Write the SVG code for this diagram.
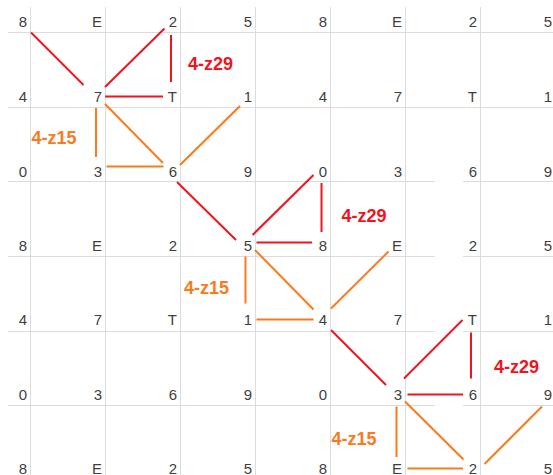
<svg xmlns="http://www.w3.org/2000/svg" width="553" height="475" viewBox="0 0 553 475">
<style>
.bg{fill:#ffffff}
.grid line{stroke:#dcdcdc;stroke-width:1}
.cell text{font-family:"Liberation Sans",Arial,sans-serif;font-size:15px;fill:#3f3f3f;text-anchor:end}
.red{stroke:#f0141e;stroke-width:2;fill:none;stroke-linecap:butt}
.orange{stroke:#fb7a1e;stroke-width:2;fill:none;stroke-linecap:butt}
.lbl{font-family:"Liberation Sans",Arial,sans-serif;font-size:18px;font-weight:bold}
.lr{fill:#f0141e}
.lo{fill:#fb7a1e}
</style>
<rect class="bg" x="0" y="0" width="553" height="475"/>
<g class="grid" id="grid">
<line x1="30.5" y1="7" x2="30.5" y2="475"/>
<line x1="105.5" y1="7" x2="105.5" y2="475"/>
<line x1="180.5" y1="7" x2="180.5" y2="475"/>
<line x1="255.5" y1="7" x2="255.5" y2="475"/>
<line x1="330.5" y1="7" x2="330.5" y2="475"/>
<line x1="405.5" y1="7" x2="405.5" y2="475"/>
<line x1="480.5" y1="7" x2="480.5" y2="475"/>
<line x1="8" y1="32.5" x2="553" y2="32.5"/>
<line x1="8" y1="107.5" x2="553" y2="107.5"/>
<line x1="8" y1="181.5" x2="435" y2="181.5"/>
<line x1="463" y1="181.5" x2="553" y2="181.5"/>
<line x1="8" y1="256.5" x2="435" y2="256.5"/>
<line x1="463" y1="256.5" x2="553" y2="256.5"/>
<line x1="8" y1="331.5" x2="435" y2="331.5"/>
<line x1="463" y1="331.5" x2="553" y2="331.5"/>
<line x1="8" y1="405.5" x2="435" y2="405.5"/>
<line x1="463" y1="405.5" x2="553" y2="405.5"/>
</g>
<g class="cell">
<g id="r0c0"><text x="27" y="27">8</text></g>
<g id="r0c1"><text x="102" y="27">E</text></g>
<g id="r0c2"><text x="177" y="27">2</text></g>
<g id="r0c3"><text x="252" y="27">5</text></g>
<g id="r0c4"><text x="327" y="27">8</text></g>
<g id="r0c5"><text x="402" y="27">E</text></g>
<g id="r0c6"><text x="477" y="27">2</text></g>
<g id="r0c7"><text x="552" y="27">5</text></g>
<g id="r1c0"><text x="27" y="102">4</text></g>
<g id="r1c1"><text x="102" y="102">7</text></g>
<g id="r1c2"><text x="177" y="102">T</text></g>
<g id="r1c3"><text x="252" y="102">1</text></g>
<g id="r1c4"><text x="327" y="102">4</text></g>
<g id="r1c5"><text x="402" y="102">7</text></g>
<g id="r1c6"><text x="477" y="102">T</text></g>
<g id="r1c7"><text x="552" y="102">1</text></g>
<g id="r2c0"><text x="27" y="177">0</text></g>
<g id="r2c1"><text x="102" y="177">3</text></g>
<g id="r2c2"><text x="177" y="177">6</text></g>
<g id="r2c3"><text x="252" y="177">9</text></g>
<g id="r2c4"><text x="327" y="177">0</text></g>
<g id="r2c5"><text x="402" y="177">3</text></g>
<g id="r2c6"><text x="477" y="177">6</text></g>
<g id="r2c7"><text x="552" y="177">9</text></g>
<g id="r3c0"><text x="27" y="250.5">8</text></g>
<g id="r3c1"><text x="102" y="250.5">E</text></g>
<g id="r3c2"><text x="177" y="250.5">2</text></g>
<g id="r3c3"><text x="252" y="250.5">5</text></g>
<g id="r3c4"><text x="327" y="250.5">8</text></g>
<g id="r3c5"><text x="402" y="250.5">E</text></g>
<g id="r3c6"><text x="477" y="250.5">2</text></g>
<g id="r3c7"><text x="552" y="250.5">5</text></g>
<g id="r4c0"><text x="27" y="325">4</text></g>
<g id="r4c1"><text x="102" y="325">7</text></g>
<g id="r4c2"><text x="177" y="325">T</text></g>
<g id="r4c3"><text x="252" y="325">1</text></g>
<g id="r4c4"><text x="327" y="325">4</text></g>
<g id="r4c5"><text x="402" y="325">7</text></g>
<g id="r4c6"><text x="477" y="325">T</text></g>
<g id="r4c7"><text x="552" y="325">1</text></g>
<g id="r5c0"><text x="27" y="399.5">0</text></g>
<g id="r5c1"><text x="102" y="399.5">3</text></g>
<g id="r5c2"><text x="177" y="399.5">6</text></g>
<g id="r5c3"><text x="252" y="399.5">9</text></g>
<g id="r5c4"><text x="327" y="399.5">0</text></g>
<g id="r5c5"><text x="402" y="399.5">3</text></g>
<g id="r5c6"><text x="477" y="399.5">6</text></g>
<g id="r5c7"><text x="552" y="399.5">9</text></g>
<g id="r6c0"><text x="27" y="473.5">8</text></g>
<g id="r6c1"><text x="102" y="473.5">E</text></g>
<g id="r6c2"><text x="177" y="473.5">2</text></g>
<g id="r6c3"><text x="252" y="473.5">5</text></g>
<g id="r6c4"><text x="327" y="473.5">8</text></g>
<g id="r6c5"><text x="402" y="473.5">E</text></g>
<g id="r6c6"><text x="477" y="473.5">2</text></g>
<g id="r6c7"><text x="552" y="473.5">5</text></g>
</g>
<g id="connectors">
<line class="red" x1="31" y1="32.5" x2="83.5" y2="85"/>
<line class="red" x1="105" y1="87" x2="164.5" y2="28.5"/>
<line class="red" x1="171" y1="35" x2="171" y2="82"/>
<line class="red" x1="105" y1="96.5" x2="163" y2="96.5"/>
<line class="orange" x1="96" y1="108" x2="96" y2="157"/>
<line class="orange" x1="106.5" y1="166.5" x2="163.5" y2="166.5"/>
<line class="orange" x1="105" y1="104" x2="163" y2="163"/>
<line class="orange" x1="180" y1="165" x2="240" y2="106"/>
<line class="red" x1="177" y1="182" x2="236" y2="240"/>
<line class="red" x1="252.5" y1="235" x2="313.5" y2="175"/>
<line class="red" x1="256.5" y1="242.5" x2="312" y2="242.5"/>
<line class="red" x1="321.5" y1="183" x2="321.5" y2="232"/>
<line class="orange" x1="245.5" y1="256.5" x2="245.5" y2="303.5"/>
<line class="orange" x1="256.5" y1="319.5" x2="313.5" y2="319.5"/>
<line class="orange" x1="255" y1="250" x2="313.5" y2="309.5"/>
<line class="orange" x1="331" y1="308.5" x2="388.5" y2="251.5"/>
<line class="red" x1="331" y1="330" x2="386" y2="385"/>
<line class="red" x1="404" y1="378.5" x2="462.5" y2="320"/>
<line class="red" x1="471" y1="332.5" x2="471" y2="378.5"/>
<line class="red" x1="407.5" y1="394.5" x2="463" y2="394.5"/>
<line class="orange" x1="396.5" y1="406.5" x2="396.5" y2="457"/>
<line class="orange" x1="407.5" y1="468.5" x2="463" y2="468.5"/>
<line class="orange" x1="405" y1="401.5" x2="463.5" y2="459.5"/>
<line class="orange" x1="484.5" y1="464" x2="542" y2="406.5"/>
</g>
<g id="labels">
<text class="lbl lr" x="188" y="70">4-z29</text>
<text class="lbl lo" x="31.5" y="144">4-z15</text>
<text class="lbl lr" x="341.5" y="221.5">4-z29</text>
<text class="lbl lo" x="184" y="294">4-z15</text>
<text class="lbl lr" x="494" y="372.5">4-z29</text>
<text class="lbl lo" x="331.5" y="445">4-z15</text>
</g>
</svg>
